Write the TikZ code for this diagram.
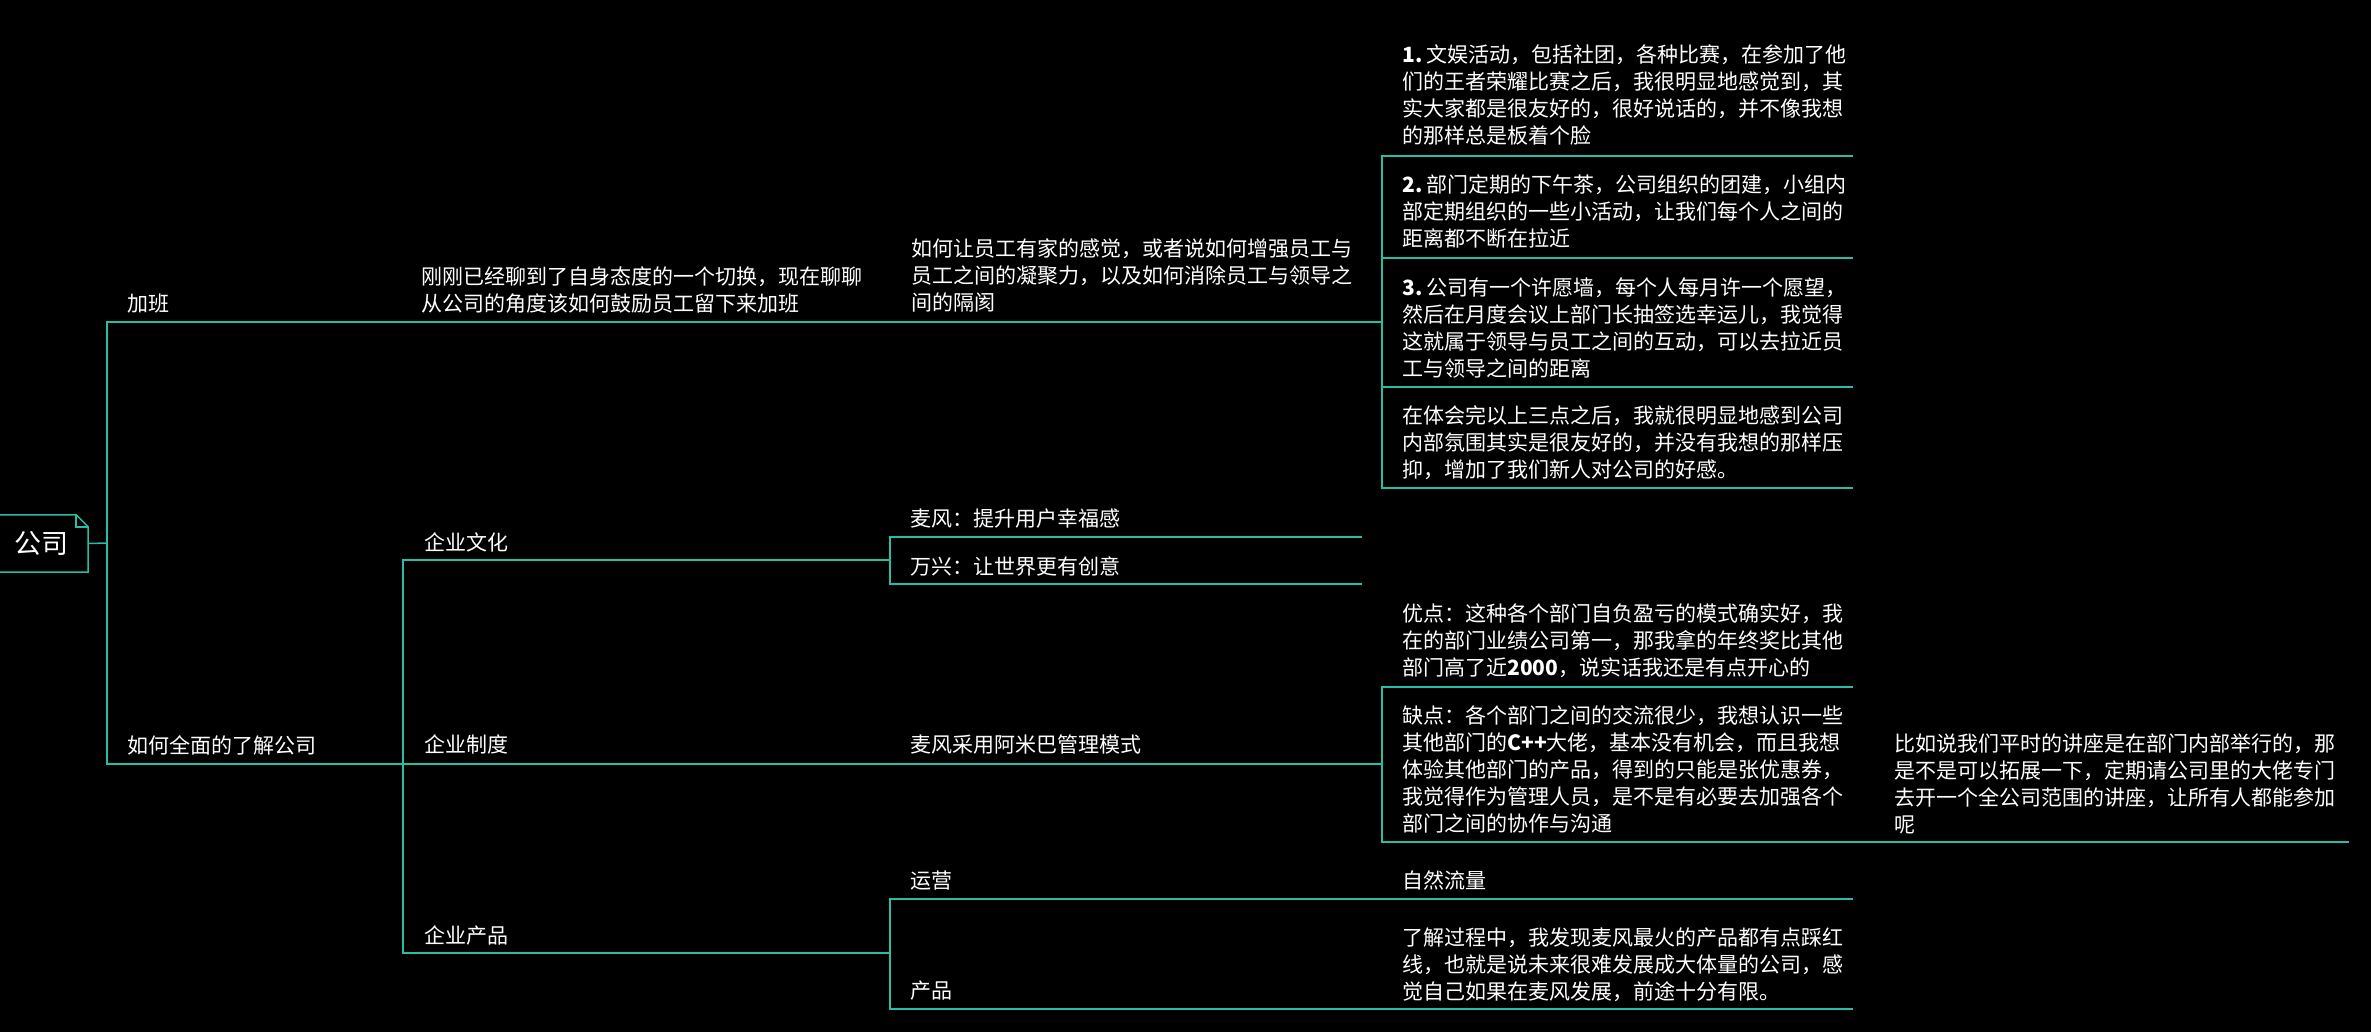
\documentclass[tikz,border=0pt]{standalone}
\usepackage{fontspec}
\setmainfont{Noto Sans CJK SC}
\usepackage{tikz}
\usetikzlibrary{calc}
\definecolor{linecolor}{RGB}{40,190,165}
\tikzstyle{topic} = [anchor=base west, inner sep=0pt, text=white, text width=480pt, align=left, font=\fontsize{21}{27}\selectfont]
\tikzstyle{rootbox} = [rectangle, inner sep=0pt, minimum width=94pt, minimum height=57pt, text=white, font=\fontsize{27}{30}\selectfont]
\tikzstyle{branch} = [draw=linecolor, line width=1.5pt]
\begin{document}
\begin{tikzpicture}[x=1pt,y=-1pt]
\useasboundingbox (0,0) rectangle (2371,1032);
\fill[black] (0,0) rectangle (2371,1032);

%% Root %%
\node [rootbox] (company) at (41,543.5) {公司};
\draw[branch] (company.north west) -- ($(company.north east)+(-12,0)$) -- ($(company.north east)+(0,12)$) -- (company.south east) -- (company.south west);
\draw[branch] ($(company.north east)+(-12,0)$) -- ($(company.north east)+(-12,12)$) -- ($(company.north east)+(0,12)$);

%% Junctions and line ends %%
\coordinate (hub) at (107,543);
\coordinate (jiaban-end) at (1382,322);
\coordinate (amiba-end) at (1382,764);
\coordinate (wenyu-end) at (1853,156);
\coordinate (chaxiang-end) at (1853,258);
\coordinate (xuyuan-end) at (1853,387);
\coordinate (tihui-end) at (1853,488);
\coordinate (zhidu-start) at (403,764);
\coordinate (wenhua-end) at (890,560);
\coordinate (chanpin-end) at (890,953);
\coordinate (maifeng-end) at (1362,537);
\coordinate (wanxing-end) at (1362,584);
\coordinate (youdian-end) at (1853,687);
\coordinate (jiangzuo-end) at (2349,842);
\coordinate (ziran-end) at (1853,899);
\coordinate (xianzhi-end) at (1853,1009);

%% Level 1 %%
\node [topic] (jiaban) at (127,311) {加班};
\node [topic] (liaojie) at (127,753) {如何全面的了解公司};

%% Jiaban %%
\node [topic] (liaoliao) at (421,284) {刚刚已经聊到了自身态度的一个切换，现在聊聊\\从公司的角度该如何鼓励员工留下来加班};
\node [topic] (ningju) at (911,257) {如何让员工有家的感觉，或者说如何增强员工与\\员工之间的凝聚力，以及如何消除员工与领导之\\间的隔阂};
\node [topic] (wenyu) at (1402,63) {\textbf{1.}\kern4pt 文娱活动，包括社团，各种比赛，在参加了他\\们的王者荣耀比赛之后，我很明显地感觉到，其\\实大家都是很友好的，很好说话的，并不像我想\\的那样总是板着个脸};
\node [topic] (chaxiang) at (1402,193) {\textbf{2.}\kern4pt 部门定期的下午茶，公司组织的团建，小组内\\部定期组织的一些小活动，让我们每个人之间的\\距离都不断在拉近};
\node [topic] (xuyuan) at (1402,295) {\textbf{3.}\kern4pt 公司有一个许愿墙，每个人每月许一个愿望，\\然后在月度会议上部门长抽签选幸运儿，我觉得\\这就属于领导与员工之间的互动，可以去拉近员\\工与领导之间的距离};
\node [topic] (tihui) at (1402,423) {在体会完以上三点之后，我就很明显地感到公司\\内部氛围其实是很友好的，并没有我想的那样压\\抑，增加了我们新人对公司的好感。};

%% Liaojie %%
\node [topic] (wenhua) at (424,550) {企业文化};
\node [topic] (maifeng) at (910,526) {麦风：提升用户幸福感};
\node [topic] (wanxing) at (910,574) {万兴：让世界更有创意};
\node [topic] (zhidu) at (424,752) {企业制度};
\node [topic] (amiba) at (910,752) {麦风采用阿米巴管理模式};
\node [topic] (youdian) at (1402,621) {优点：这种各个部门自负盈亏的模式确实好，我\\在的部门业绩公司第一，那我拿的年终奖比其他\\部门高了近\textbf{2000}，说实话我还是有点开心的};
\node [topic] (quedian) at (1402,723) {缺点：各个部门之间的交流很少，我想认识一些\\其他部门的\textbf{C++}大佬，基本没有机会，而且我想\\体验其他部门的产品，得到的只能是张优惠券，\\我觉得作为管理人员，是不是有必要去加强各个\\部门之间的协作与沟通};
\node [topic] (jiangzuo) at (1894,751) {比如说我们平时的讲座是在部门内部举行的，那\\是不是可以拓展一下，定期请公司里的大佬专门\\去开一个全公司范围的讲座，让所有人都能参加\\呢};
\node [topic] (chanpin) at (424,943) {企业产品};
\node [topic] (yunying) at (910,888) {运营};
\node [topic] (ziran) at (1402,888) {自然流量};
\node [topic] (product) at (910,998) {产品};
\node [topic] (xianzhi) at (1402,945) {了解过程中，我发现麦风最火的产品都有点踩红\\线，也就是说未来很难发展成大体量的公司，感\\觉自己如果在麦风发展，前途十分有限。};

%% Connections %%
\draw[branch] (company.east) -- (hub);
\draw[branch] (hub) |- (jiaban-end);
\draw[branch] (hub) |- (amiba-end);
\draw[branch] (jiaban-end) |- (wenyu-end);
\draw[branch] (jiaban-end) |- (chaxiang-end);
\draw[branch] (jiaban-end) |- (xuyuan-end);
\draw[branch] (jiaban-end) |- (tihui-end);
\draw[branch] (zhidu-start) |- (wenhua-end);
\draw[branch] (zhidu-start) |- (chanpin-end);
\draw[branch] (wenhua-end) |- (maifeng-end);
\draw[branch] (wenhua-end) |- (wanxing-end);
\draw[branch] (amiba-end) |- (youdian-end);
\draw[branch] (amiba-end) |- (jiangzuo-end);
\draw[branch] (chanpin-end) |- (ziran-end);
\draw[branch] (chanpin-end) |- (xianzhi-end);

\end{tikzpicture}
\end{document}
